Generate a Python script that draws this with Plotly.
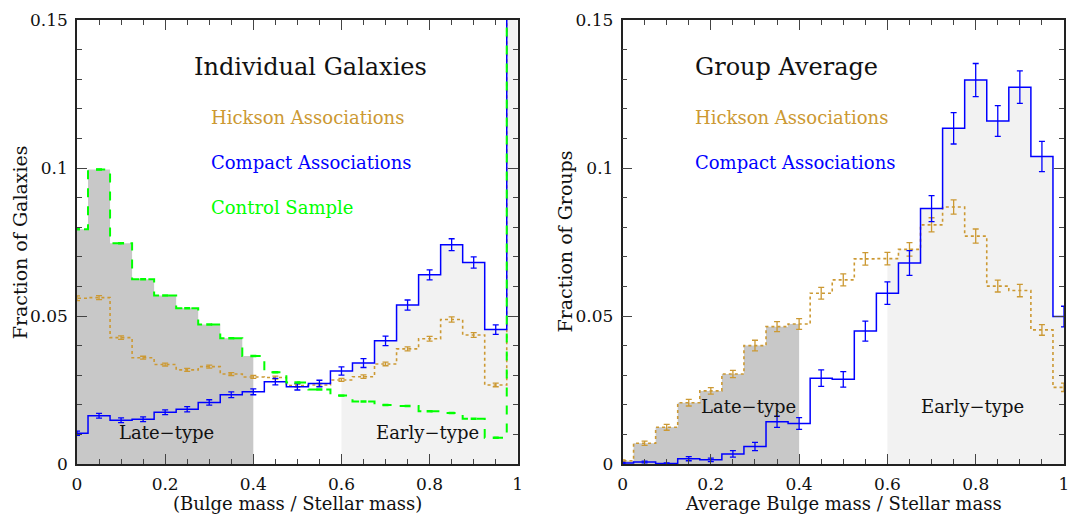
import plotly.graph_objects as go

# Bulge-to-stellar mass fraction bins (centres, bin width 0.05)
centers = [0.00, 0.05, 0.10, 0.15, 0.20, 0.25, 0.30, 0.35, 0.40, 0.45, 0.50,
           0.55, 0.60, 0.65, 0.70, 0.75, 0.80, 0.85, 0.90, 0.95, 1.00]
HALF = 0.025

# Individual galaxies
ind_control = [0.0793, 0.0995, 0.0746, 0.0624, 0.0569, 0.0526, 0.0471, 0.0425, 0.0365, 0.0310, 0.0275,
               0.0252, 0.0231, 0.0211, 0.0199, 0.0196, 0.0178, 0.0172, 0.0153, 0.0089, 0.2100]
ind_control_err = [0.0002, 0.0002, 0.0002, 0.0002, 0.0002, 0.0002, 0.0002, 0.0002, 0.0002, 0.0002, 0.0002,
                   0.0002, 0.0002, 0.0002, 0.0002, 0.0002, 0.0002, 0.0002, 0.0002, 0.0002, 0.0005]
ind_hickson = [0.0560, 0.0562, 0.0427, 0.0359, 0.0336, 0.0318, 0.0329, 0.0304, 0.0294, 0.0292, 0.0265,
               0.0267, 0.0284, 0.0295, 0.0338, 0.0389, 0.0423, 0.0488, 0.0436, 0.0267, 0.1700]
ind_hickson_err = [0.0008, 0.0007, 0.0006, 0.0005, 0.0005, 0.0005, 0.0005, 0.0005, 0.0005, 0.0005, 0.0005,
                   0.0005, 0.0005, 0.0006, 0.0006, 0.0007, 0.0008, 0.0009, 0.0008, 0.0006, 0.0020]
ind_compact = [0.0104, 0.0163, 0.0148, 0.0151, 0.0175, 0.0185, 0.0208, 0.0234, 0.0244, 0.0278, 0.0261,
               0.0272, 0.0314, 0.0341, 0.0416, 0.0537, 0.0639, 0.0741, 0.0681, 0.0454, 0.1600]
ind_compact_err = [0.0007, 0.0008, 0.0008, 0.0008, 0.0008, 0.0009, 0.0009, 0.0010, 0.0010, 0.0011, 0.0011,
                   0.0011, 0.0014, 0.0015, 0.0016, 0.0017, 0.0017, 0.0020, 0.0019, 0.0016, 0.0040]

# Group averages
grp_hickson = [0.0011, 0.0070, 0.0124, 0.0207, 0.0247, 0.0304, 0.0400, 0.0464, 0.0473, 0.0577, 0.0622,
               0.0693, 0.0694, 0.0725, 0.0808, 0.0868, 0.0770, 0.0601, 0.0586, 0.0453, 0.0259]
grp_hickson_err = [0.0003, 0.0007, 0.0010, 0.0011, 0.0011, 0.0012, 0.0018, 0.0017, 0.0018, 0.0020, 0.0020,
                   0.0021, 0.0021, 0.0023, 0.0024, 0.0024, 0.0024, 0.0020, 0.0021, 0.0018, 0.0014]
grp_compact = [0.0003, 0.0007, 0.0002, 0.0018, 0.0014, 0.0034, 0.0059, 0.0143, 0.0137, 0.0290, 0.0286,
               0.0449, 0.0577, 0.0679, 0.0863, 0.1134, 0.1297, 0.1159, 0.1273, 0.1039, 0.0498]
grp_compact_err = [0.0002, 0.0003, 0.0002, 0.0007, 0.0006, 0.0011, 0.0014, 0.0019, 0.0020, 0.0028, 0.0026,
                   0.0034, 0.0038, 0.0042, 0.0044, 0.0053, 0.0056, 0.0052, 0.0055, 0.0051, 0.0035]

LATE_RANGE = (0.0, 0.4)
EARLY_RANGE = (0.6, 1.0)

GOLD = "#cc9933"
BLUE = "#0000ff"
GREEN = "#00ff00"
DARK_FILL = "#c8c8c8"
LIGHT_FILL = "#f2f2f2"
FONT = "DejaVu Serif"


def steps(values):
    xs = [c - HALF for c in centers] + [centers[-1] + HALF]
    ys = list(values) + [values[-1]]
    return xs, ys


def band(lo, hi, env):
    xs, ys = [], []
    for c, v in zip(centers, env):
        a, b = c - HALF, c + HALF
        if b <= lo or a >= hi:
            continue
        xs.append(max(a, lo))
        ys.append(v)
    xs.append(hi)
    ys.append(ys[-1])
    return xs, ys


def envelope(*series):
    return [max(vals) for vals in zip(*series)]


fig = go.Figure()


def add_panel(xa, ya, series):
    env = envelope(*[s[0] for s in series])
    for (lo, hi), col in ((LATE_RANGE, DARK_FILL), (EARLY_RANGE, LIGHT_FILL)):
        bx, by = band(lo, hi, env)
        fig.add_trace(go.Scatter(x=bx, y=by, mode="lines", line=dict(shape="hv", width=0, color=col),
                                 fill="tozeroy", fillcolor=col, xaxis=xa, yaxis=ya,
                                 hoverinfo="skip", showlegend=False))
    for vals, errs, col, dash, w in series:
        sx, sy = steps(vals)
        fig.add_trace(go.Scatter(x=sx, y=sy, mode="lines",
                                 line=dict(shape="hv", color=col, dash=dash, width=w),
                                 xaxis=xa, yaxis=ya, showlegend=False))
        fig.add_trace(go.Scatter(x=centers, y=vals, mode="markers",
                                 marker=dict(size=0.1, color=col, opacity=0),
                                 error_y=dict(type="data", array=errs, color=col, thickness=1.3, width=3),
                                 xaxis=xa, yaxis=ya, showlegend=False))


add_panel("x", "y", [
    (ind_hickson, ind_hickson_err, GOLD, "dot", 1.6),
    (ind_compact, ind_compact_err, BLUE, "solid", 1.5),
    (ind_control, ind_control_err, GREEN, "dash", 2.0),
])
add_panel("x2", "y2", [
    (grp_hickson, grp_hickson_err, GOLD, "dot", 1.6),
    (grp_compact, grp_compact_err, BLUE, "solid", 1.5),
])

axis_common = dict(
    showgrid=False, zeroline=False, showline=True, linecolor="#222", linewidth=1.5,
    mirror="ticks", ticks="inside", ticklen=10, tickwidth=1.3, tickcolor="#444",
    tickfont=dict(family=FONT, size=17, color="#111"),
)
xaxis_common = dict(axis_common, range=[0, 1], dtick=0.2, tick0=0, ticklabelstandoff=4,
                    minor=dict(ticks="inside", ticklen=5, dtick=0.05, tickwidth=1.1, tickcolor="#444"))
yaxis_common = dict(axis_common, range=[0, 0.15], dtick=0.05, tick0=0, ticklabelstandoff=4,
                    minor=dict(ticks="inside", ticklen=5, dtick=0.01, tickwidth=1.1, tickcolor="#444"))

L, R, T, B = 77, 1, 20, 53
W, H = 1070, 517
PW = W - L - R
PH = H - T - B


def px_x(p):
    return (p - L) / PW


def px_y(p):
    return (H - B - p) / PH


fig.update_layout(
    width=W, height=H, margin=dict(l=L, r=R, t=T, b=B),
    paper_bgcolor="white", plot_bgcolor="white",
    xaxis=dict(xaxis_common, domain=[0, px_x(520)], anchor="y"),
    yaxis=dict(yaxis_common, domain=[0, 1], anchor="x"),
    xaxis2=dict(xaxis_common, domain=[px_x(625.3), 1], anchor="y2"),
    yaxis2=dict(yaxis_common, domain=[0, 1], anchor="x2"),
)

ann = []


def label(text, x, y, xref, yref, size, color="#111", xanchor="center", angle=0):
    ann.append(dict(text=text, x=x, y=y, xref=xref, yref=yref, showarrow=False,
                    xanchor=xanchor, yanchor="middle", textangle=angle,
                    font=dict(family=FONT, size=size, color=color)))


# Left panel text
label("Individual Galaxies", 0.261, 0.1342, "x", "y", 24, xanchor="left")
label("Hickson Associations", 0.300, 0.1169, "x", "y", 18, GOLD, "left")
label("Compact Associations", 0.300, 0.1017, "x", "y", 18, BLUE, "left")
label("Control Sample", 0.300, 0.0865, "x", "y", 18, GREEN, "left")
label("Late\u2212type", 0.204, 0.0105, "x", "y", 18)
label("Early\u2212type", 0.796, 0.0105, "x", "y", 18)

# Right panel text
label("Group Average", 0.1604, 0.1342, "x2", "y2", 24, xanchor="left")
label("Hickson Associations", 0.1604, 0.1169, "x2", "y2", 18, GOLD, "left")
label("Compact Associations", 0.1604, 0.1017, "x2", "y2", 18, BLUE, "left")
label("Late\u2212type", 0.2845, 0.0194, "x2", "y2", 18)
label("Early\u2212type", 0.7926, 0.0194, "x2", "y2", 18)

# Axis titles
label("Fraction of Galaxies", px_x(20), 0.5, "paper", "paper", 19, angle=-90)
label("Fraction of Groups", px_x(567), 0.5, "paper", "paper", 19, angle=-90)
label("(Bulge mass / Stellar mass)", px_x(298.5), px_y(503), "paper", "paper", 18)
label("Average Bulge mass / Stellar mass", px_x(847.5), px_y(503), "paper", "paper", 18)

fig.update_layout(annotations=ann)

fig.write_html("out.html")
